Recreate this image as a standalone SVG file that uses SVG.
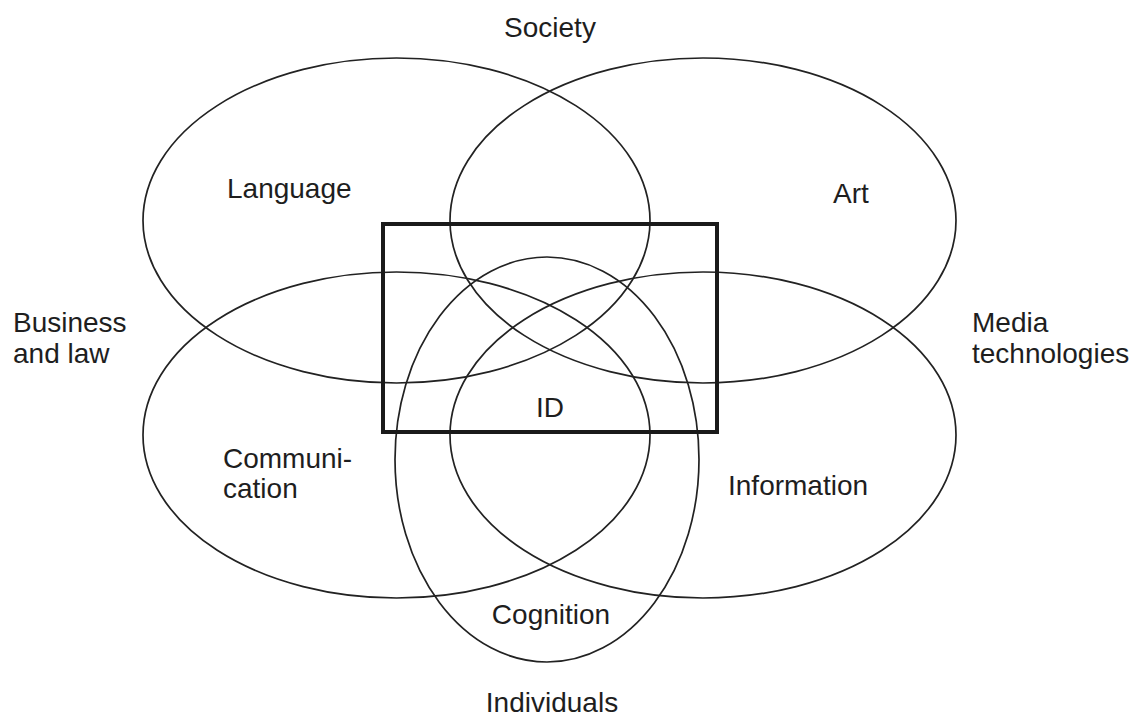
<svg xmlns="http://www.w3.org/2000/svg" width="1143" height="716" viewBox="0 0 1143 716">
  <style>
    .set { fill: none; stroke: #222; stroke-width: 1.7; }
    .frame { fill: none; stroke: #1a1a1a; stroke-width: 4; }
    .lbl { font-family: "Liberation Sans", Arial, sans-serif; font-size: 28px; fill: #1e1e1e; }
    .mid { text-anchor: middle; }
  </style>
  <rect width="1143" height="716" fill="#ffffff"/>

  <!-- overlapping domains -->
  <g id="language">
    <ellipse class="set" cx="396.5" cy="220.5" rx="253.5" ry="162.5"/>
    <text class="lbl" x="227" y="198">Language</text>
  </g>
  <g id="art">
    <ellipse class="set" cx="703" cy="220.5" rx="253" ry="162.5"/>
    <text class="lbl" x="833" y="203">Art</text>
  </g>
  <g id="communication">
    <ellipse class="set" cx="396.5" cy="435" rx="253.5" ry="163"/>
    <text class="lbl" x="223" y="468">Communi-</text>
    <text class="lbl" x="223" y="498">cation</text>
  </g>
  <g id="information">
    <ellipse class="set" cx="703" cy="435" rx="253" ry="163"/>
    <text class="lbl" x="728" y="495">Information</text>
  </g>
  <g id="cognition">
    <ellipse class="set" cx="547" cy="459.5" rx="152" ry="202.5"/>
    <text class="lbl mid" x="551" y="624">Cognition</text>
  </g>

  <!-- interaction design frame -->
  <g id="id-frame">
    <rect class="frame" x="383" y="224" width="334" height="208"/>
    <text class="lbl mid" x="550" y="417">ID</text>
  </g>

  <!-- outer context labels -->
  <g id="society">
    <text class="lbl mid" x="550" y="37">Society</text>
  </g>
  <g id="business-law">
    <text class="lbl" x="13" y="332">Business</text>
    <text class="lbl" x="13" y="363">and law</text>
  </g>
  <g id="media-tech">
    <text class="lbl" x="972" y="332">Media</text>
    <text class="lbl" x="972" y="363">technologies</text>
  </g>
  <g id="individuals">
    <text class="lbl mid" x="552" y="712">Individuals</text>
  </g>

  <g id="connectors"></g>
</svg>
